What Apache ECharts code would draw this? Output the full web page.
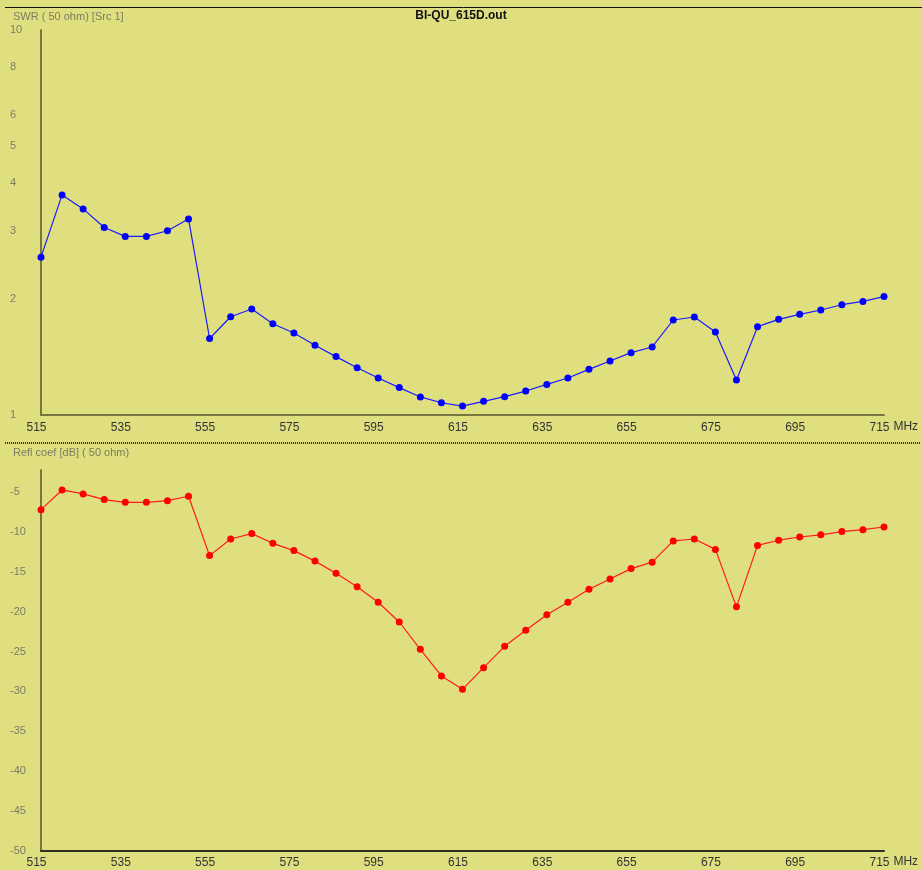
<!DOCTYPE html>
<html>
<head>
<meta charset="utf-8">
<title>BI-QU_615D.out</title>
<script src="https://cdn.jsdelivr.net/npm/echarts@6/dist/echarts.min.js"></script>
<style>
  html, body { margin: 0; padding: 0; background: #e0df80; }
  #chart { width: 922px; height: 870px; }
</style>
</head>
<body>
<div id="chart"></div>
<script>
// Sweep frequencies (MHz), 5 MHz steps
const freqs = ['515','520','525','530','535','540','545','550','555','560',
               '565','570','575','580','585','590','595','600','605','610',
               '615','620','625','630','635','640','645','650','655','660',
               '665','670','675','680','685','690','695','700','705','710','715'];

// SWR referenced to 50 ohm
const swr = [2.57, 3.73, 3.43, 3.07, 2.91, 2.91, 3.01, 3.23, 1.58, 1.80,
             1.885, 1.726, 1.633, 1.517, 1.418, 1.327, 1.248, 1.178, 1.114, 1.076,
             1.055, 1.085, 1.116, 1.154, 1.201, 1.248, 1.314, 1.381, 1.452, 1.502,
             1.765, 1.797, 1.643, 1.233, 1.696, 1.772, 1.826, 1.874, 1.934, 1.973, 2.030];

// Reflection coefficient in dB
const reflDb = [-7.22, -4.75, -5.25, -5.96, -6.30, -6.30, -6.09, -5.54, -12.98, -10.90,
                -10.22, -11.44, -12.35, -13.67, -15.20, -16.87, -18.83, -21.30, -24.72, -28.06,
                -29.74, -27.02, -24.35, -22.34, -20.38, -18.83, -17.20, -15.91, -14.61, -13.80,
                -11.14, -10.90, -12.20, -19.40, -11.70, -11.05, -10.65, -10.37, -9.97, -9.73, -9.39];

// Tick labels
const swrTicks = [1, 2, 3, 4, 5, 6, 8, 10];
const dbTicks = [-5, -10, -15, -20, -25, -30, -35, -40, -45, -50];

const BG = '#e0df80';
const AXIS_OLIVE = '#76763e';
const LABEL_GRAY = '#7c7c62';
const FONT = 'Liberation Sans, Arial, sans-serif';

const chart = echarts.init(document.getElementById('chart'), null, { renderer: 'canvas' });

function xAxisFor(gridIndex, lineColor, labelMargin) {
  return {
    type: 'category',
    gridIndex: gridIndex,
    data: freqs,
    boundaryGap: false,
    name: 'MHz',
    nameLocation: 'end',
    nameGap: 7,
    nameTextStyle: { color: '#333', fontFamily: FONT, fontSize: 12, verticalAlign: 'top', padding: [labelMargin - 1, 0, 0, 0] },
    axisLine: { show: true, lineStyle: { color: lineColor, width: 2 } },
    axisTick: { show: false },
    splitLine: { show: false },
    axisLabel: {
      interval: 3,
      margin: labelMargin,
      color: '#333',
      fontFamily: FONT,
      fontSize: 12,
      padding: [0, 9, 0, 0]
    }
  };
}

const option = {
  backgroundColor: BG,
  animation: false,
  title: [
    { text: 'BI-QU_615D.out', left: 'center', top: 5,
      textStyle: { fontFamily: FONT, fontSize: 12, fontWeight: 'bold', color: '#111' } },
    { text: 'SWR ( 50 ohm) [Src 1]', left: 8, top: 6,
      textStyle: { fontFamily: FONT, fontSize: 11, fontWeight: 'normal', color: LABEL_GRAY } },
    { text: 'Refl coef [dB] ( 50 ohm)', left: 8, top: 442,
      textStyle: { fontFamily: FONT, fontSize: 11, fontWeight: 'normal', color: LABEL_GRAY } }
  ],
  grid: [
    { left: 41, right: 38, top: 30, height: 385 },
    { left: 41, right: 38, top: 470, height: 381 }
  ],
  xAxis: [
    xAxisFor(0, AXIS_OLIVE, 7),
    xAxisFor(1, '#2e2e22', 6)
  ],
  yAxis: [
    {
      type: 'log',
      gridIndex: 0,
      logBase: 10,
      min: 1,
      max: 10,
      axisLine: { show: true, lineStyle: { color: AXIS_OLIVE, width: 2 } },
      axisTick: { show: false },
      splitLine: { show: false },
      axisLabel: {
        customValues: swrTicks,
        align: 'left',
        margin: 31,
        color: LABEL_GRAY,
        fontFamily: FONT,
        fontSize: 11
      }
    },
    {
      type: 'value',
      gridIndex: 1,
      min: -50,
      max: -2.25,
      axisLine: { show: true, lineStyle: { color: AXIS_OLIVE, width: 2 } },
      axisTick: { show: false },
      splitLine: { show: false },
      axisLabel: {
        customValues: dbTicks,
        align: 'left',
        margin: 31,
        color: LABEL_GRAY,
        fontFamily: FONT,
        fontSize: 11
      }
    }
  ],
  series: [
    {
      type: 'line',
      xAxisIndex: 0,
      yAxisIndex: 0,
      data: swr,
      symbol: 'circle',
      symbolSize: 7,
      showAllSymbol: true,
      itemStyle: { color: '#0000ff' },
      lineStyle: { color: '#1a1aff', width: 1.2 }
    },
    {
      type: 'line',
      xAxisIndex: 1,
      yAxisIndex: 1,
      data: reflDb,
      symbol: 'circle',
      symbolSize: 7,
      showAllSymbol: true,
      itemStyle: { color: '#ff0000' },
      lineStyle: { color: '#ff1a1a', width: 1.2 }
    }
  ],
  graphic: [
    // frame line across the top
    { type: 'line', shape: { x1: 5, y1: 7.5, x2: 922, y2: 7.5 },
      style: { stroke: '#111', lineWidth: 1 }, silent: true },
    // dotted divider between the two panels
    { type: 'line', shape: { x1: 5, y1: 443, x2: 920, y2: 443 },
      style: { stroke: '#333', lineWidth: 2, lineDash: [1, 1] }, silent: true }
  ]
};

chart.setOption(option);
</script>
</body>
</html>
